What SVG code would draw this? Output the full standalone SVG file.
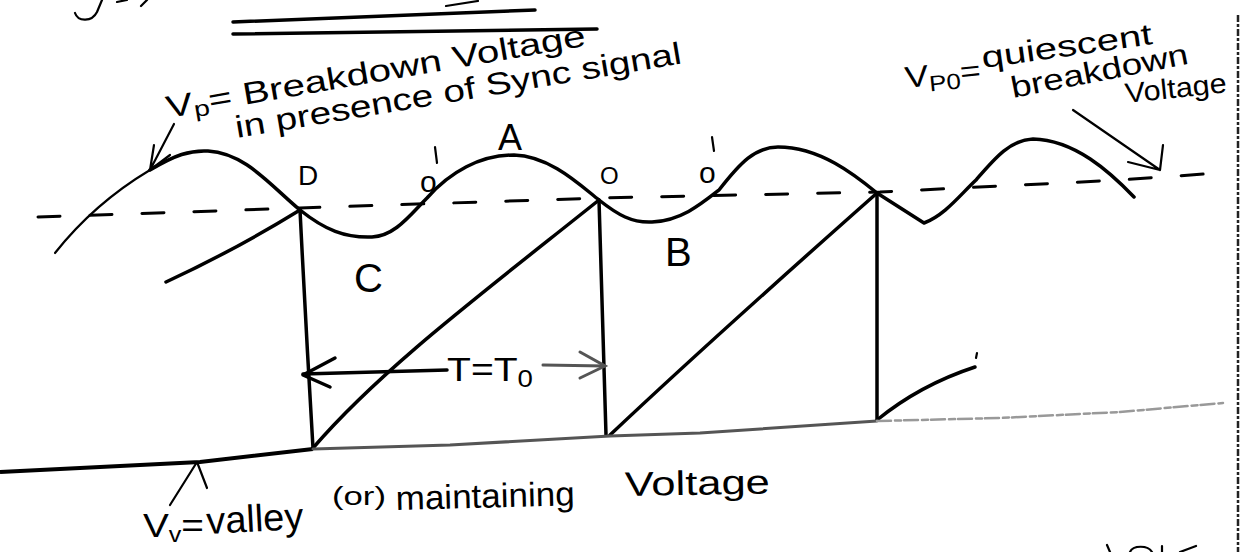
<svg xmlns="http://www.w3.org/2000/svg" width="1241" height="552" viewBox="0 0 1241 552">
<style>
.ink{fill:none;stroke:#000;stroke-width:3.5;stroke-linecap:round;stroke-linejoin:round}
.thin{fill:none;stroke:#000;stroke-width:2.2;stroke-linecap:round;stroke-linejoin:round}
.dash{fill:none;stroke:#000;stroke-width:3;stroke-dasharray:22 30;stroke-linecap:round}
.grey{fill:none;stroke:#555;stroke-width:3;stroke-linecap:round}
.lt{fill:none;stroke:#999;stroke-width:2.5;stroke-linecap:round;stroke-dasharray:14 4 6 3}
.t{font-family:"Liberation Sans",Arial,sans-serif;fill:#000}
</style>
<rect width="1241" height="552" fill="#fff"/>
<g id="page-marks">
<path class="thin" d="M75,13 C78,22 92,22 97,12 L102,0"/>
<path class="thin" d="M117,2 L127,0 M147,0 L141,6"/>
<path class="ink" d="M233,22 L535,10"/>
<path class="ink" d="M233,34 L597,29"/>
<path class="thin" d="M446,6 L478,1"/>
<line x1="1238" y1="15" x2="1238" y2="552" stroke="#222" stroke-width="2.5" stroke-dasharray="7 2 3 2"/>
<path class="thin" d="M1107,545 L1110,552 M1130,552 C1133,545 1148,545 1152,552 M1162,552 L1162,546 M1180,552 L1196,546"/>
</g>
<g id="quiescent-level">
<path class="dash" d="M38,217 L300,208 L600,198 L880,192 L1120,180 L1232,172"/>
</g>
<g id="sync-breakdown-curve">
<path class="thin" d="M55,253 C85,215 120,188 150,170"/>
<path class="ink" d="M150,170 C175,155 190,150 208,151 C245,153 270,185 300,210 C325,230 345,238 372,237 C395,236 410,215 427,198 C450,172 480,155 514,155 C550,156 580,185 599,200 C618,215 632,223 652,222 C680,221 700,205 719,190 C740,163 755,147 778,147 C820,147 855,175 877,193 L924,223 C945,215 960,195 976,180 C995,158 1010,140 1033,139 C1075,140 1110,172 1134,197"/>
</g>
<g id="sweep-sawtooth">
<path class="ink" d="M166,282 Q235,250 300,210"/>
<path class="ink" d="M300,210 Q306,330 313,448"/>
<path class="ink" d="M313,448 C380,370 480,295 599,200"/>
<path class="ink" d="M599,200 L606,435"/>
<path class="ink" d="M610,435 C700,350 790,270 877,193"/>
<path class="ink" d="M877,193 L877,420"/>
<path class="ink" d="M877,420 Q920,385 975,367"/>
<path class="thin" d="M977,353 L976,358"/>
</g>
<g id="valley-level">
<path d="M0,472 L200,462 L313,449" fill="none" stroke="#000" stroke-width="4"/>
<path class="grey" d="M313,449 L450,445 L610,436 L700,433 L877,421"/>
<path class="lt" d="M877,421 L1000,418 L1120,412 L1223,403"/>
</g>
<g id="period-arrow">
<path class="ink" d="M303,374 L447,370"/>
<path class="ink" d="M335,358 L303,375 L330,387"/>
<path class="grey" d="M543,365 L605,366"/>
<path class="grey" d="M580,352 L605,366 L580,378"/>
<text class="t" font-size="34" transform="translate(447,381)" textLength="86" lengthAdjust="spacingAndGlyphs">T=T<tspan font-size="24" dy="6">0</tspan></text>
</g>
<g id="point-labels">
<text class="t" font-size="28" x="298" y="185">D</text>
<text class="t" font-size="30" x="420" y="192">o</text>
<path class="thin" d="M435,147 L437,163"/>
<text class="t" font-size="36" x="498" y="150">A</text>
<text class="t" font-size="24" x="600" y="184">O</text>
<text class="t" font-size="30" x="699" y="183">o</text>
<path class="thin" d="M712,137 L714,151"/>
<text class="t" font-size="40" x="354" y="292">C</text>
<text class="t" font-size="40" x="665" y="266">B</text>
</g>
<g id="label-vp">
<text class="t" font-size="31" transform="translate(168,118) rotate(-9.8)" textLength="425" lengthAdjust="spacingAndGlyphs">V<tspan font-size="22" dy="4">p</tspan><tspan dy="-4">= Breakdown Voltage</tspan></text>
<text class="t" font-size="31" transform="translate(237,138) rotate(-9.5)" textLength="452" lengthAdjust="spacingAndGlyphs">in presence of Sync signal</text>
<path class="thin" d="M174,124 L150,170 M154,145 L150,170 L170,155"/>
</g>
<g id="label-vp0">
<text class="t" font-size="30" transform="translate(906,88) rotate(-6)" textLength="76" lengthAdjust="spacingAndGlyphs">V<tspan font-size="22" dy="6">P0</tspan><tspan dy="-6">=</tspan></text>
<text class="t" font-size="30" transform="translate(983,68) rotate(-8)" textLength="172" lengthAdjust="spacingAndGlyphs">quiescent</text>
<text class="t" font-size="30" transform="translate(1013,98) rotate(-11)" textLength="180" lengthAdjust="spacingAndGlyphs">breakdown</text>
<text class="t" font-size="28" transform="translate(1126,103) rotate(-6)" textLength="102" lengthAdjust="spacingAndGlyphs">Voltage</text>
<path class="thin" d="M1073,110 L1160,170 M1128,162 L1160,170 L1163,145"/>
</g>
<g id="label-vv">
<text class="t" font-size="34" x="143" y="537" textLength="61" lengthAdjust="spacingAndGlyphs">V<tspan font-size="22" dy="5">v</tspan><tspan dy="-5">=</tspan></text>
<text class="t" font-size="38" transform="translate(207,534) rotate(-3)" textLength="97" lengthAdjust="spacingAndGlyphs">valley</text>
<text class="t" font-size="26" x="332" y="505" textLength="54" lengthAdjust="spacingAndGlyphs">(or)</text>
<text class="t" font-size="34" transform="translate(396,510) rotate(-1.5)" textLength="179" lengthAdjust="spacingAndGlyphs">maintaining</text>
<text class="t" font-size="34" transform="translate(625,496) rotate(-1)" textLength="145" lengthAdjust="spacingAndGlyphs">Voltage</text>
<path class="thin" d="M170,505 L197,462 L207,488"/>
</g>
</svg>
